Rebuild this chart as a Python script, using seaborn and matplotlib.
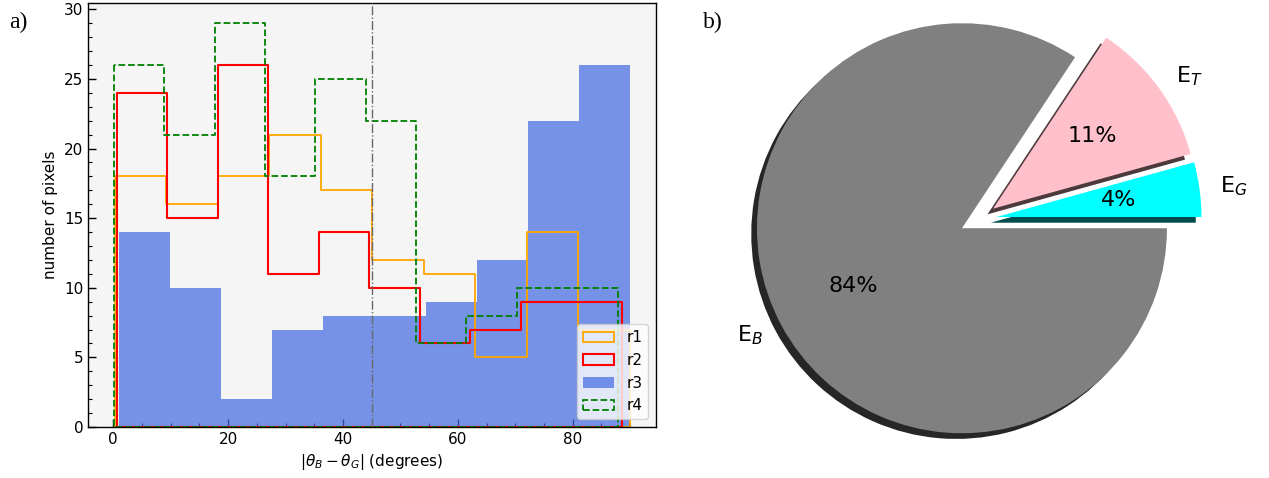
import numpy as np
import pandas as pd
import matplotlib
matplotlib.use("Agg")
import matplotlib.pyplot as plt
from matplotlib.patches import Patch
from matplotlib.ticker import AutoMinorLocator, MultipleLocator
import seaborn as sns

# Histogram counts per region (10 equal-width bins each)
r1_counts = [18, 16, 18, 21, 17, 12, 11, 5, 14, 7]
r2_counts = [24, 15, 26, 11, 14, 10, 6, 7, 9, 9]
r3_counts = [14, 10, 2, 7, 8, 8, 9, 12, 22, 26]
r4_counts = [26, 21, 29, 18, 25, 22, 6, 8, 10, 10]
# Min / max angle difference (degrees) in each region
r1_range = (0.3, 89.9)
r2_range = (0.6, 88.5)
r3_range = (1.0, 90.0)
r4_range = (0.1, 87.8)
series_labels = ["r1", "r2", "r3", "r4"]
threshold_angle = 45

# Energy fractions (percent)
pie_labels = ["E$_G$", "E$_T$", "E$_B$"]
pie_values = [4.3, 11.4, 84.3]
pie_colors = ["cyan", "pink", "gray"]

sns.set_theme(style="ticks")
plt.rcParams.update({
    "font.family": ["DejaVu Sans"],
    "mathtext.fontset": "dejavusans",
    "font.size": 11,
    "axes.edgecolor": "black",
    "axes.linewidth": 1.0,
    "xtick.color": "black",
    "ytick.color": "black",
    "text.color": "black",
    "axes.labelcolor": "black",
})

fig = plt.figure(figsize=(12.69, 4.78), dpi=100)
W, H = 1269, 478

# ---------------- a) histograms ----------------
ax = fig.add_axes([88 / W, (H - 427) / H, 568 / W, 424 / H])
ax.set_facecolor("whitesmoke")


def step_hist(counts, rng, **kws):
    n = len(counts)
    edges = np.linspace(rng[0], rng[1], n + 1)
    df = pd.DataFrame({
        "angle": 0.5 * (edges[:-1] + edges[1:]),
        "count": np.asarray(counts, dtype=float),
    })
    sns.histplot(data=df, x="angle", weights="count", bins=n, binrange=rng,
                 element="step", ax=ax, **kws)


step_hist(r3_counts, r3_range, fill=True, color="royalblue", alpha=0.7,
          linewidth=0, zorder=1)
step_hist(r1_counts, r1_range, fill=True, color="orange", facecolor="none",
          edgecolor="orange", linewidth=1.3, zorder=2)
step_hist(r2_counts, r2_range, fill=True, color="red", facecolor="none",
          edgecolor="red", linewidth=1.5, zorder=2)
step_hist(r4_counts, r4_range, fill=True, color="green", facecolor="none",
          edgecolor="green", linewidth=1.3, linestyle="--", zorder=2)

ax.axvline(threshold_angle, color="dimgray", linestyle="-.", linewidth=1.0,
           zorder=3)

ax.set_xlim(-4.4, 94.5)
ax.set_ylim(0, 30.45)
ax.xaxis.set_major_locator(MultipleLocator(20))
ax.yaxis.set_major_locator(MultipleLocator(5))
ax.xaxis.set_minor_locator(AutoMinorLocator(4))
ax.yaxis.set_minor_locator(AutoMinorLocator(5))
ax.tick_params(which="both", direction="in", top=False, right=False,
               labelsize=11)
ax.tick_params(which="major", length=6, width=1)
ax.tick_params(which="minor", length=3, width=0.8)
for s in ax.spines.values():
    s.set_visible(True)
    s.set_color("black")
    s.set_linewidth(1.0)

ax.set_xlabel(r"$|\theta_B - \theta_G|$ (degrees)", fontsize=11)
ax.set_ylabel("number of pixels", fontsize=11)

handles = [
    Patch(facecolor="none", edgecolor="orange", linewidth=1.3),
    Patch(facecolor="none", edgecolor="red", linewidth=1.5),
    Patch(facecolor="royalblue", alpha=0.7, linewidth=0),
    Patch(facecolor="none", edgecolor="green", linewidth=1.3, linestyle="--"),
]
ax.legend(handles, series_labels, loc="lower right", fontsize=11)

# ---------------- b) energy pie ----------------
ax2 = fig.add_axes([700 / W, 0, 569 / W, 1])
ax2.pie(pie_values, explode=[0.09] * len(pie_values), labels=pie_labels,
        colors=pie_colors, autopct="%1.0f%%",
        shadow={"ox": -0.02, "oy": -0.02, "alpha": 1.0, "linewidth": 0},
        startangle=0, wedgeprops={"linewidth": 0},
        textprops={"fontsize": 16})
cx, cy, rpx = 978.2, 219.5, 205.0
ax2.set_aspect("auto")
ax2.set_xlim((700 - cx) / rpx, (W - cx) / rpx)
ax2.set_ylim(-(H - cy) / rpx, cy / rpx)
ax2.axis("off")

fig.text(9 / W, 1 - 22 / H, "a)", family="Liberation Serif", fontsize=17,
         va="center", ha="left")
fig.text(703 / W, 1 - 22 / H, "b)", family="Liberation Serif", fontsize=17,
         va="center", ha="left")

fig.savefig("out.png", dpi=100)
